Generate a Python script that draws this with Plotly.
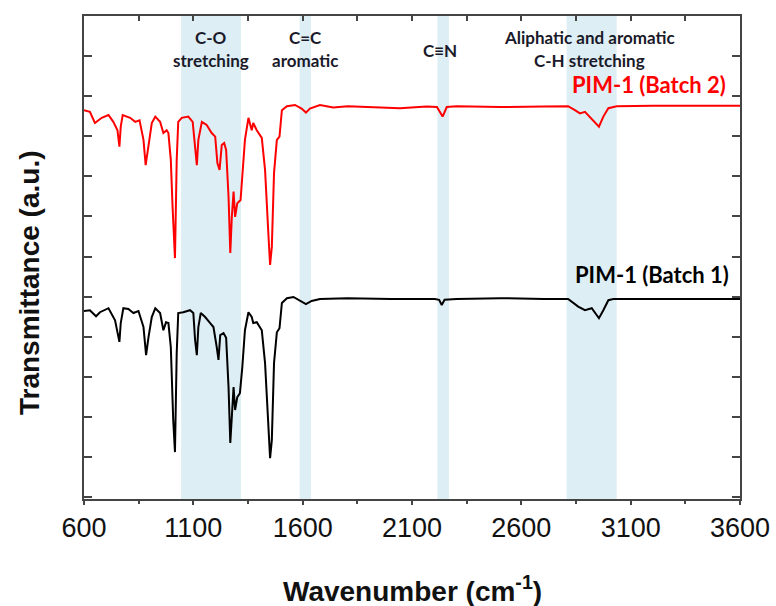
import plotly.graph_objects as go

# ---------------- data ----------------
wn_batch1 = [600, 627, 655, 673, 712, 742, 762, 768, 780, 803, 826, 849, 872, 884, 895, 910, 926,
             948, 963, 975, 986, 997, 1008, 1016, 1024, 1031, 1054, 1085, 1100, 1108, 1116, 1123,
             1134, 1154, 1177, 1192, 1207, 1215, 1223, 1238, 1250, 1261, 1269, 1276, 1284, 1291,
             1301, 1313, 1324, 1336, 1352, 1367, 1374, 1390, 1413, 1428, 1443, 1451, 1459, 1469,
             1482, 1494, 1505, 1528, 1558, 1588, 1615, 1641, 1679, 1806, 2005, 2204, 2224, 2236,
             2249, 2304, 2503, 2703, 2814, 2860, 2891, 2922, 2955, 2975, 2998, 3021, 3201, 3600]
t_batch1 = [5.64, 5.66, 5.51, 5.61, 5.71, 5.41, 4.87, 5.34, 5.71, 5.69, 5.59, 5.64, 5.24, 4.54,
            4.99, 5.49, 5.71, 5.59, 5.16, 5.36, 5.34, 4.74, 2.92, 2.12, 4.59, 5.59, 5.61, 5.66,
            5.59, 4.92, 4.54, 5.24, 5.59, 5.49, 5.34, 5.24, 4.74, 4.42, 5.04, 5.09, 4.97, 3.74,
            2.35, 2.92, 3.74, 3.17, 3.49, 3.59, 4.24, 5.16, 5.61, 5.49, 5.34, 5.36, 5.16, 4.34,
            2.74, 1.97, 2.42, 4.34, 5.11, 5.21, 5.84, 5.96, 5.99, 5.89, 5.81, 5.89, 5.94, 5.96,
            5.94, 5.94, 5.92, 5.79, 5.92, 5.94, 5.96, 5.94, 5.94, 5.75, 5.66, 5.71, 5.46, 5.66,
            5.91, 5.94, 5.94, 5.94]

wn_batch2 = [600, 627, 650, 681, 712, 734, 753, 762, 768, 777, 811, 834, 854, 872, 882, 895, 910,
             926, 948, 963, 978, 986, 997, 1005, 1016, 1024, 1031, 1047, 1077, 1097, 1108, 1116,
             1123, 1139, 1161, 1184, 1200, 1210, 1220, 1230, 1241, 1250, 1261, 1269, 1276, 1284,
             1291, 1301, 1316, 1325, 1336, 1352, 1367, 1374, 1390, 1413, 1428, 1443, 1451, 1459,
             1469, 1482, 1494, 1505, 1528, 1565, 1595, 1615, 1633, 1679, 1740, 1806, 2045, 2167,
             2214, 2240, 2259, 2304, 2503, 2703, 2814, 2845, 2868, 2891, 2922, 2955, 2975, 2998,
             3036, 3201, 3600]
t_batch2 = [10.65, 10.61, 10.33, 10.46, 10.53, 10.36, 10.15, 9.74, 10.24, 10.53, 10.46, 10.36,
            10.40, 9.91, 9.28, 9.83, 10.33, 10.49, 10.36, 10.08, 10.15, 10.08, 9.41, 8.24, 6.96,
            9.41, 10.36, 10.46, 10.49, 10.36, 9.65, 9.28, 9.91, 10.36, 10.28, 10.08, 9.99, 9.33,
            9.16, 9.78, 9.83, 9.66, 8.49, 7.09, 7.99, 8.62, 7.99, 8.33, 8.41, 9.16, 9.91, 10.46,
            10.15, 10.33, 10.15, 9.96, 9.16, 7.58, 6.79, 7.24, 9.08, 9.91, 9.99, 10.65, 10.75,
            10.78, 10.69, 10.59, 10.69, 10.78, 10.72, 10.75, 10.70, 10.74, 10.73, 10.49, 10.73,
            10.75, 10.73, 10.74, 10.75, 10.65, 10.57, 10.61, 10.44, 10.24, 10.49, 10.70, 10.75,
            10.76, 10.76]

band_start = [1044, 1586, 2216, 2807]
band_end = [1318, 1638, 2269, 3036]

band_label_lines = [["C-O", "stretching"], ["C=C", "aromatic"], ["C\u2261N"],
                    ["Aliphatic and aromatic", "C-H stretching"]]
band_label_x = [1180, 1611, 2228, 2914]
band_label_y = [[12.47, 11.88], [12.47, 11.88], [12.15], [12.47, 11.88]]

series_names = ["PIM-1 (Batch 1)", "PIM-1 (Batch 2)"]
series_label_x = [3197, 3184]
series_label_y = [6.54, 11.28]
series_colors = ["#000000", "#FF0000"]

x_ticks = [600, 1100, 1600, 2100, 2600, 3100, 3600]
x_title = "<b>Wavenumber (cm<sup>-1</sup>)</b>"
y_title = "<b>Transmittance (a.u.)</b>"

# ---------------- figure ----------------
fig = go.Figure()

fig.add_trace(go.Scatter(x=wn_batch1, y=t_batch1, mode="lines", name=series_names[0],
                         line=dict(color=series_colors[0], width=2), showlegend=False))
fig.add_trace(go.Scatter(x=wn_batch2, y=t_batch2, mode="lines", name=series_names[1],
                         line=dict(color=series_colors[1], width=2), showlegend=False))
# invisible trace to activate the top axis
fig.add_trace(go.Scatter(x=[x_ticks[0]], y=[t_batch1[0]], xaxis="x2", mode="markers",
                         marker=dict(opacity=0), showlegend=False, hoverinfo="skip"))

for x0, x1 in zip(band_start, band_end):
    fig.add_shape(type="rect", xref="x", yref="paper", x0=x0, x1=x1, y0=0, y1=1,
                  fillcolor="#DEEEF5", line=dict(width=0), layer="below")

label_font = dict(family="Lato", size=17, color="#1a1a2a")
for lines, lx, lys in zip(band_label_lines, band_label_x, band_label_y):
    for txt, ly in zip(lines, lys):
        fig.add_annotation(x=lx, y=ly, xref="x", yref="y", text="<b>%s</b>" % txt,
                           showarrow=False, font=label_font)

for name, lx, ly, c in zip(series_names, series_label_x, series_label_y, series_colors):
    fig.add_annotation(x=lx, y=ly, xref="x", yref="y", text="<b>%s</b>" % name,
                       showarrow=False, font=dict(family="Lato", size=22, color=c))

# axis titles
fig.add_annotation(x=0.5, y=-0.186, xref="paper", yref="paper", text=x_title,
                   showarrow=False, yanchor="middle", xanchor="center",
                   font=dict(family="Arial", size=28, color="#111111"))
fig.add_annotation(x=-0.084, y=0.449, xref="paper", yref="paper", text=y_title,
                   showarrow=False, textangle=-90, xanchor="center", yanchor="middle",
                   font=dict(family="Arial", size=28, color="#111111"))

axis_col = "#444444"
fig.update_layout(
    width=776, height=606,
    margin=dict(l=84, r=36, t=16, b=107, autoexpand=False),
    paper_bgcolor="white", plot_bgcolor="white",
    xaxis=dict(range=[600, 3600], tickvals=x_ticks, ticks="outside", ticklen=4, tickwidth=1.5,
               tickcolor=axis_col, showline=True, linecolor=axis_col, linewidth=2,
               mirror=True, showgrid=False, zeroline=False, automargin=False,
               minor=dict(dtick=250, tick0=600, ticks="outside", ticklen=3, tickcolor=axis_col,
                          tickwidth=1.5),
               tickfont=dict(family="Arial", size=27, color="#111111")),
    xaxis2=dict(range=[600, 3600], overlaying="x", side="top", showticklabels=False,
                tickvals=x_ticks, ticks="inside", ticklen=5, tickwidth=1.5, tickcolor=axis_col,
                minor=dict(dtick=250, tick0=600, ticks="inside", ticklen=5, tickcolor=axis_col,
                           tickwidth=1.5),
                showline=False, showgrid=False, zeroline=False, automargin=False),
    yaxis=dict(range=[0.95, 13], dtick=1, tick0=0, ticks="inside", ticklen=8, tickwidth=1.5,
               tickcolor=axis_col, showticklabels=False, showline=True, linecolor=axis_col,
               linewidth=2, mirror="ticks", showgrid=False, zeroline=False, automargin=False),
)

fig.write_html("out.html")
